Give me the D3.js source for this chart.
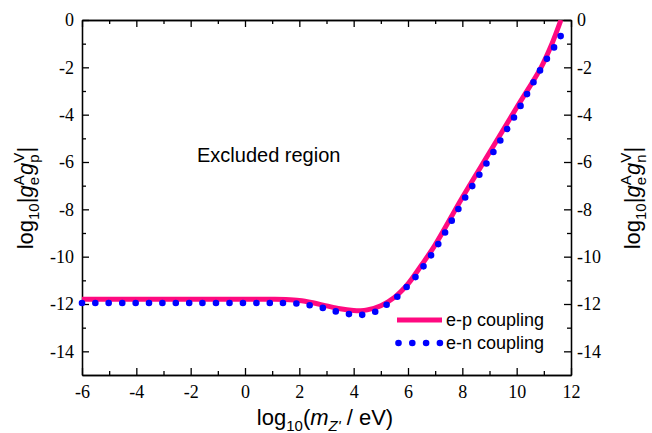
<!DOCTYPE html>
<html><head><meta charset="utf-8">
<script src="https://cdn.jsdelivr.net/npm/d3@7"></script>
<style>body{margin:0;background:#fff}svg{display:block}</style>
</head><body>
<svg id="c" width="652" height="433"></svg>
<script>
// ---- data ----
const xMajorTicks = [-6,-4,-2,0,2,4,6,8,10,12];
const xMinorTicks = [-5,-3,-1,1,3,5,7,9,11];
const yMajorTicks = [0,-2,-4,-6,-8,-10,-12,-14];
const yMinorTicks = [-1,-3,-5,-7,-9,-11,-13];
const epX = [-6,-4,-2,0,1,1.5,2,2.5,3,3.5,4,4.25,4.5,5,5.5,6,6.5,7,8,9,10,10.9,11.3,11.63];
const epY = [-11.8,-11.8,-11.8,-11.8,-11.8,-11.81,-11.85,-11.95,-12.08,-12.2,-12.27,-12.28,-12.25,-12.07,-11.72,-11.15,-10.35,-9.5,-7.5,-5.6,-3.7,-2.0,-1.0,0];
const enX = [-6,-4,-2,0,1,1.5,2,2.5,3,3.5,4,4.3,4.75,5.15,5.55,5.9,6.25,7,8,9,10,10.93,11.47,11.71];
const enY = [-11.96,-11.96,-11.96,-11.96,-11.96,-11.96,-11.99,-12.08,-12.2,-12.36,-12.45,-12.46,-12.35,-12.08,-11.75,-11.34,-10.9,-9.68,-7.7,-5.85,-3.92,-1.99,-0.98,-0.49];
const legendLabels = ["e-p coupling","e-n coupling"];
const annotation = "Excluded region";

const svg = d3.select("#c");
const x = d3.scaleLinear().domain([-6,12]).range([82,571]);
const y = d3.scaleLinear().domain([-15,0]).range([375,20]);
const PINK = "#ff0a80", BLUE = "#0000ff";
const sansFont = "Liberation Sans";

function styleAxis(g){
  g.select(".domain").attr("stroke","#000").attr("stroke-width",1.3);
  g.selectAll(".tick line").attr("stroke","#000").attr("stroke-width",1.3);
  g.selectAll(".tick text").attr("font-family","Liberation Serif").attr("font-size",18).attr("fill","#000");
}
const fmt = d => String(d);

// bottom
svg.append("g").attr("transform","translate(0,375)")
  .call(d3.axisBottom(x).tickValues(xMajorTicks).tickSize(-7).tickPadding(10).tickFormat(fmt).tickSizeOuter(0))
  .call(styleAxis);
svg.append("g").attr("transform","translate(0,375)")
  .call(d3.axisBottom(x).tickValues(xMinorTicks).tickSize(-4).tickFormat("").tickSizeOuter(0))
  .call(styleAxis);
// top
svg.append("g").attr("transform","translate(0,20)")
  .call(d3.axisTop(x).tickValues(xMajorTicks).tickSize(-7).tickFormat("").tickSizeOuter(0))
  .call(styleAxis);
svg.append("g").attr("transform","translate(0,20)")
  .call(d3.axisTop(x).tickValues(xMinorTicks).tickSize(-4).tickFormat("").tickSizeOuter(0))
  .call(styleAxis);
// left
svg.append("g").attr("transform","translate(82,0)")
  .call(d3.axisLeft(y).tickValues(yMajorTicks).tickSize(-7).tickPadding(8).tickFormat(fmt).tickSizeOuter(0))
  .call(styleAxis);
svg.append("g").attr("transform","translate(82,0)")
  .call(d3.axisLeft(y).tickValues(yMinorTicks).tickSize(-4).tickFormat("").tickSizeOuter(0))
  .call(styleAxis);
// right
svg.append("g").attr("transform","translate(571,0)")
  .call(d3.axisRight(y).tickValues(yMajorTicks).tickSize(-7).tickPadding(6).tickFormat(fmt).tickSizeOuter(0))
  .call(styleAxis);
svg.append("g").attr("transform","translate(571,0)")
  .call(d3.axisRight(y).tickValues(yMinorTicks).tickSize(-4).tickFormat("").tickSizeOuter(0))
  .call(styleAxis);

// clip
svg.append("defs").append("clipPath").attr("id","clip")
  .append("rect").attr("x",76).attr("y",20).attr("width",501).attr("height",356);

const line = d3.line().x(d=>x(d[0])).y(d=>y(d[1])).curve(d3.curveCatmullRom.alpha(0.5));
const plot = svg.append("g").attr("clip-path","url(#clip)");
plot.append("path").datum(epX.map((v,i)=>[v,epY[i]]))
  .attr("d",line).attr("fill","none").attr("stroke",PINK).attr("stroke-width",5);
plot.append("path").datum(enX.map((v,i)=>[v,enY[i]]))
  .attr("d",line).attr("fill","none").attr("stroke",BLUE).attr("stroke-width",6.6)
  .attr("stroke-linecap","round").attr("stroke-dasharray","0 13.4");

// legend
const lg = svg.append("g");
lg.append("line").attr("x1",397).attr("x2",442).attr("y1",320).attr("y2",320)
  .attr("stroke",PINK).attr("stroke-width",5);
lg.append("line").attr("x1",398.5).attr("x2",440).attr("y1",343).attr("y2",343)
  .attr("stroke",BLUE).attr("stroke-width",6.6).attr("stroke-linecap","round").attr("stroke-dasharray","0 13.8");
lg.selectAll("text").data(legendLabels).join("text")
  .attr("x",446).attr("y",(d,i)=>326+i*23)
  .attr("font-family",sansFont).attr("font-size",18).attr("fill","#000").text(d=>d);

// annotation
svg.append("text").attr("x",197).attr("y",162).attr("font-family",sansFont).attr("font-size",20).text(annotation);

// x title
const xt = svg.append("text").attr("x",325).attr("y",425).attr("text-anchor","middle")
  .attr("font-family",sansFont).attr("font-size",22).attr("fill","#000");
xt.append("tspan").text("log");
xt.append("tspan").attr("font-size",15).attr("dy",6).text("10");
xt.append("tspan").attr("dy",-6).text("(");
xt.append("tspan").attr("font-style","italic").text("m");
xt.append("tspan").attr("font-size",15).attr("font-style","italic").attr("dy",6).text("Z'");
xt.append("tspan").attr("dy",-6).text(" / eV)");

// y titles
function yTitle(cx, sub){
  const t = svg.append("text").attr("transform",`translate(${cx},198) rotate(-90)`).attr("text-anchor","middle")
    .attr("font-family",sansFont).attr("font-size",22).attr("fill","#000");
  t.append("tspan").text("log");
  t.append("tspan").attr("font-size",15).attr("dy",6).text("10");
  t.append("tspan").attr("dy",-6).text("|");
  t.append("tspan").attr("font-style","italic").text("g");
  t.append("tspan").attr("font-size",15).attr("dy",-9).text("A");
  t.append("tspan").attr("font-size",15).attr("dx",-10).attr("dy",15).text("e");
  t.append("tspan").attr("font-style","italic").attr("dx",2).attr("dy",-6).text("g");
  t.append("tspan").attr("font-size",15).attr("dy",-9).text("V");
  t.append("tspan").attr("font-size",15).attr("dx",-10).attr("dy",15).text(sub);
  t.append("tspan").attr("dx",2).attr("dy",-6).text("|");
}
yTitle(33,"p");
yTitle(640,"n");
</script>
</body></html>
